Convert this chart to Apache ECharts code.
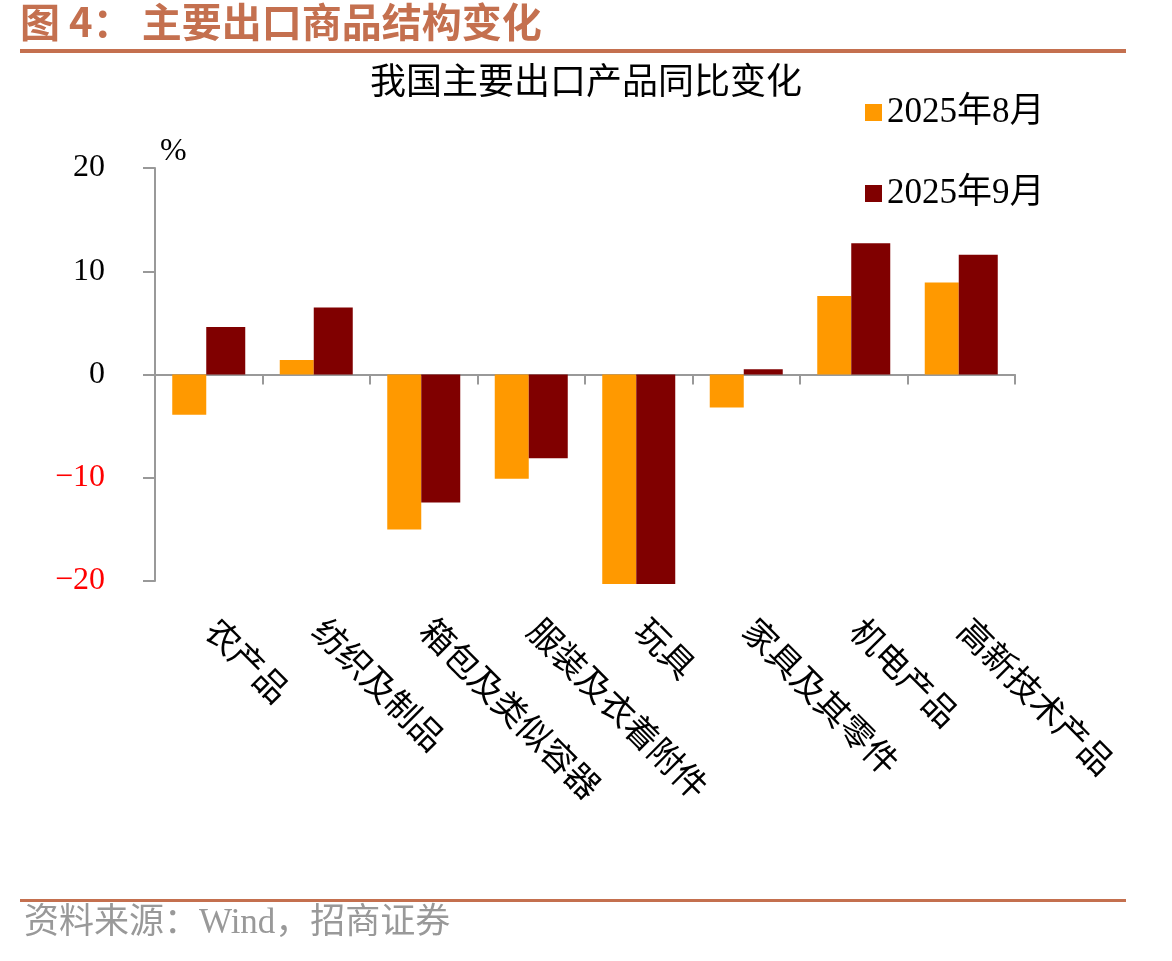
<!DOCTYPE html>
<html>
<head>
<meta charset="utf-8">
<script src="https://cdn.jsdelivr.net/npm/echarts@6/dist/echarts.min.js"></script>
<style>
  html, body { margin: 0; padding: 0; background: #fff; }
  #chart { width: 1172px; height: 961px; }
</style>
</head>
<body>
<div id="chart"></div>
<script>
// 我国主要出口产品同比变化 (%)
const categories = ["农产品", "纺织及制品", "箱包及类似容器", "服装及衣着附件", "玩具", "家具及其零件", "机电产品", "高新技术产品"];
const seriesNames = ["2025年8月", "2025年9月"];
const aug = [-3.9, 1.4, -15.0, -10.1, -20.3, -3.2, 7.6, 8.9];
const sep = [4.6, 6.5, -12.4, -8.1, -20.3, 0.5, 12.7, 11.6];
const yTicks = { min: -20, max: 20, interval: 10 };

const serif = "'Liberation Serif', 'Noto Sans CJK SC', serif";
const brand = "#C4704F";
const axisGray = "#999999";

const chart = echarts.init(document.getElementById("chart"));
chart.setOption({
  backgroundColor: "#fff",
  animation: false,
  textStyle: { fontFamily: serif },
  title: {
    text: "我国主要出口产品同比变化",
    left: "center",
    top: 62,
    textStyle: { fontSize: 36, fontWeight: "normal", color: "#000", fontFamily: serif },
  },
  legend: {
    orient: "vertical",
    left: 860,
    top: 90,
    itemWidth: 17,
    itemHeight: 17,
    itemGap: 46,
    icon: "rect",
    data: seriesNames,
    textStyle: { fontSize: 35, color: "#000", fontFamily: serif },
  },
  grid: { left: 155, right: 157, top: 168, bottom: 380 },
  xAxis: [
    {
      type: "category",
      data: categories,
      axisLine: { onZero: true, lineStyle: { color: axisGray, width: 2 } },
      axisTick: { show: true, interval: 0, length: 10, lineStyle: { color: axisGray, width: 2 } },
      axisLabel: { show: false },
    },
    {
      type: "category",
      data: categories,
      position: "bottom",
      axisLine: { show: false, onZero: false },
      axisTick: { show: false },
      axisLabel: {
        interval: 0,
        rotate: -45,
        margin: 46,
        fontSize: 34,
        color: "#000",
        fontFamily: serif,
      },
    },
  ],
  yAxis: {
    type: "value",
    min: yTicks.min,
    max: yTicks.max,
    interval: yTicks.interval,
    splitLine: { show: false },
    axisLine: { show: true, lineStyle: { color: axisGray, width: 2 } },
    axisTick: { show: true, length: 12, lineStyle: { color: axisGray, width: 2 } },
    axisLabel: {
      margin: 50,
      fontSize: 32,
      fontFamily: serif,
      formatter: (value) => String(value).replace("-", "\u2212"),
      color: (value) => (Number(value) < 0 ? "#FF0000" : "#000"),
    },
  },
  series: [
    {
      name: seriesNames[0],
      type: "bar",
      data: aug,
      barWidth: 34,
      barGap: "0%",
      clip: false,
      itemStyle: { color: "#FF9900" },
    },
    {
      name: seriesNames[1],
      type: "bar",
      data: sep,
      barWidth: 39,
      barGap: "0%",
      clip: false,
      itemStyle: { color: "#800000" },
    },
  ],
  graphic: [
    {
      type: "text",
      left: 20,
      top: 2,
      style: {
        text: "图 4： 主要出口商品结构变化",
        fill: brand,
        font: "bold 40px 'Noto Sans CJK SC', serif",
      },
    },
    { type: "rect", shape: { x: 20, y: 49, width: 1106, height: 4 }, style: { fill: brand } },
    {
      type: "text",
      left: 160,
      top: 136,
      style: { text: "%", fill: "#000", font: "32px 'Liberation Serif', serif" },
    },
    { type: "rect", shape: { x: 20, y: 899, width: 1106, height: 3 }, style: { fill: brand } },
    {
      type: "text",
      left: 24,
      top: 906,
      style: {
        text: "资料来源：Wind，招商证券",
        fill: "#999",
        font: "35px 'Liberation Serif', 'Noto Sans CJK SC', serif",
      },
    },
  ],
});
</script>
</body>
</html>
